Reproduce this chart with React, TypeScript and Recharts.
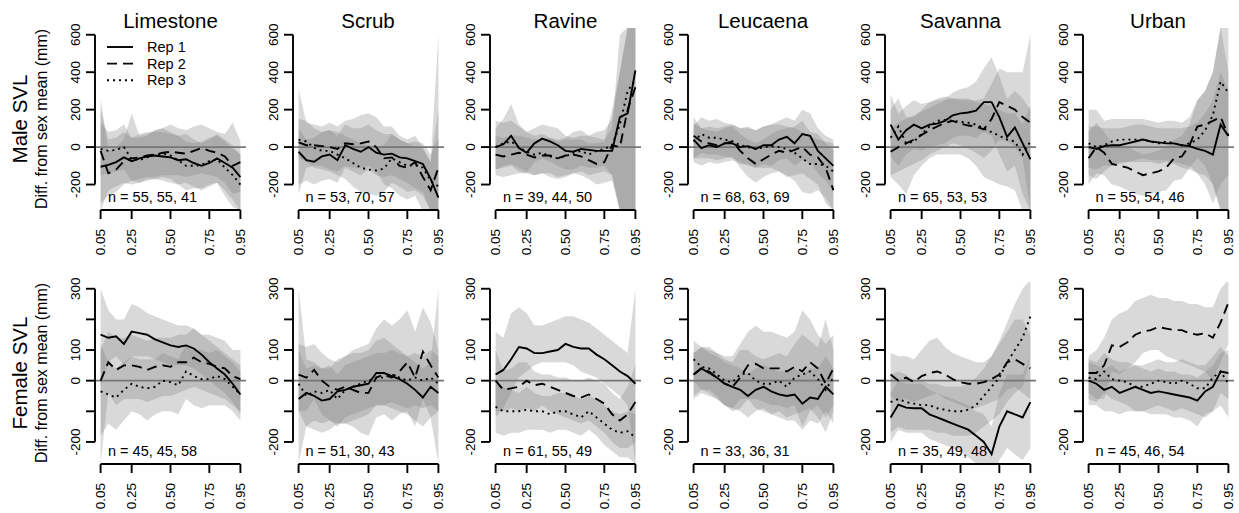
import React from 'react';
import { ComposedChart, Line, Area, XAxis, YAxis, ReferenceLine } from 'recharts';

// quantile positions along the x axis
const QUANTILES = [0.05, 0.1, 0.15, 0.2, 0.25, 0.3, 0.35, 0.4, 0.45, 0.5, 0.55, 0.6, 0.65, 0.7, 0.75, 0.8, 0.85, 0.9, 0.95];
const X_TICKS = [0.05, 0.25, 0.5, 0.75, 0.95];
const HABITATS = ['Limestone', 'Scrub', 'Ravine', 'Leucaena', 'Savanna', 'Urban'];
const REPS = ['Rep 1', 'Rep 2', 'Rep 3'];
const MALE_N = ['n = 55, 55, 41', 'n = 53, 70, 57', 'n = 39, 44, 50', 'n = 68, 63, 69', 'n = 65, 53, 53', 'n = 55, 54, 46'];
const FEMALE_N = ['n = 45, 45, 58', 'n = 51, 30, 43', 'n = 61, 55, 49', 'n = 33, 36, 31', 'n = 35, 49, 48', 'n = 45, 46, 54'];
const MALE_Y_TICKS = [-200, 0, 200, 400, 600];
const MALE_Y_LABELS = [-200, 0, 200, 400, 600];
const FEMALE_Y_TICKS = [-200, -100, 0, 100, 200, 300];
const FEMALE_Y_LABELS = [-200, 0, 100, 300];

// ---- male SVL ----
const mLim1 = [-105, -95, -80, -55, -75, -60, -50, -45, -50, -55, -70, -65, -85, -100, -85, -60, -85, -110, -160];
const mLim2 = [-20, -140, -120, -75, -60, -55, -45, -40, -30, -25, -30, -35, -20, -5, -20, -30, -50, -100, -80];
const mLim3 = [-10, -20, -15, 0, -65, -70, -55, -40, -35, -45, -70, -100, -100, -95, -75, -65, -110, -150, -200];
const mLim1lo = [-340, -230, -210, -190, -200, -190, -180, -170, -180, -190, -200, -190, -210, -230, -210, -190, -230, -280, -340];
const mLim1hi = [200, 40, 50, 80, 50, 70, 80, 80, 80, 70, 60, 70, 40, 20, 40, 70, 40, 10, -40];
const mLim2lo = [-300, -260, -240, -200, -180, -170, -160, -160, -150, -150, -150, -160, -150, -140, -150, -160, -190, -250, -240];
const mLim2hi = [260, -20, 0, 40, 180, 60, 70, 90, 100, 120, 100, 90, 110, 120, 100, 80, 70, 130, 30];
const mLim3lo = [-150, -140, -130, -120, -180, -190, -170, -170, -160, -170, -200, -230, -220, -220, -200, -190, -260, -320, -340];
const mLim3hi = [130, 80, 90, 120, 50, 50, 60, 90, 100, 80, 60, 30, 20, 30, 50, 60, 30, -10, -40];

const mScr1 = [-25, -70, -78, -50, -40, -70, 10, -10, -25, 0, -30, -40, -35, -55, -60, -75, -90, -170, -270];
const mScr2 = [25, 10, 10, 5, 0, -10, 20, 15, 20, 30, 0, -60, -55, -100, -110, -80, -160, -230, -110];
const mScr3 = [40, 30, -5, -20, -20, -40, -60, -85, -110, -120, -125, -115, -60, -80, -100, -95, -110, -180, -210];
const mScr1lo = [-200, -180, -200, -180, -170, -190, -110, -130, -150, -120, -150, -160, -150, -170, -190, -220, -240, -340, -340];
const mScr1hi = [100, 40, 50, 80, 90, 60, 120, 100, 100, 120, 90, 70, 70, 40, 20, 0, -10, -80, 600];
const mScr2lo = [-250, -110, -100, -100, -120, -130, -100, -110, -110, -100, -130, -200, -220, -260, -280, -260, -340, -340, -340];
const mScr2hi = [310, 130, 120, 110, 130, 110, 140, 150, 170, 180, 160, 110, 110, 60, 40, 60, 0, -80, 200];
const mScr3lo = [-60, -80, -110, -120, -130, -150, -170, -210, -240, -250, -260, -240, -190, -210, -240, -230, -260, -340, -340];
const mScr3hi = [150, 140, 100, 80, 90, 80, 60, 40, 20, 10, 0, 10, 70, 40, 20, 30, 20, -40, 50];

const mRav1 = [0, 15, 60, -5, -30, 20, 45, 30, 10, -20, -25, -10, -15, -20, -20, -20, 160, 180, 410];
const mRav2 = [-40, -50, -40, -30, -40, -55, -45, -45, -60, -45, -40, -50, -70, -90, -80, 10, 0, 200, 320];
const mRav3 = [0, 20, 30, 0, -25, -40, -30, -50, -60, -50, -30, -20, -40, -20, -10, 10, 120, 300, 360];
const mRav1lo = [-120, -110, -100, -130, -140, -80, -60, -80, -100, -120, -120, -100, -110, -110, -100, -150, -340, -340, -340];
const mRav1hi = [100, 150, 230, 120, 80, 100, 120, 110, 100, 60, 50, 60, 60, 50, 40, 100, 600, 640, 640];
const mRav2lo = [-150, -160, -150, -140, -140, -150, -140, -140, -160, -150, -140, -150, -170, -200, -190, -180, -340, -340, -340];
const mRav2hi = [60, 50, 60, 60, 50, 40, 40, 50, 30, 40, 40, 40, 20, 20, 30, 200, 400, 640, 640];
const mRav3lo = [-120, -100, -90, -110, -130, -150, -140, -160, -170, -160, -140, -130, -150, -140, -130, -150, -340, -340, -340];
const mRav3hi = [140, 130, 140, 110, 80, 60, 70, 50, 40, 50, 80, 90, 60, 80, 90, 150, 400, 640, 640];

const mLeu1 = [40, -5, 10, 0, 20, 20, 0, 5, -10, 10, 10, 40, 55, 20, 70, 60, -20, -60, -100];
const mLeu2 = [60, 30, 20, 10, 20, 30, -20, -60, -90, -65, -40, -20, -30, -15, 0, -40, -55, -110, -230];
const mLeu3 = [30, 70, 50, 50, 40, 30, 10, 0, -10, 0, 5, 0, -10, -30, -60, -90, -90, -100, -130];
const mLeu1lo = [-80, -100, -80, -90, -80, -70, -90, -90, -110, -90, -100, -70, -60, -100, -70, -80, -140, -180, -240];
const mLeu1hi = [160, 100, 110, 100, 110, 120, 100, 110, 90, 110, 120, 140, 160, 140, 200, 180, 100, 60, 40];
const mLeu2lo = [-60, -60, -60, -70, -60, -50, -110, -160, -190, -160, -140, -130, -160, -150, -140, -170, -200, -300, -340];
const mLeu2hi = [130, 100, 90, 80, 100, 110, 70, 40, 20, 40, 70, 90, 100, 110, 140, 80, 70, 20, -20];
const mLeu3lo = [-60, -30, -40, -40, -50, -60, -80, -100, -110, -110, -110, -130, -150, -180, -240, -250, -230, -270, -340];
const mLeu3hi = [110, 160, 140, 150, 130, 120, 100, 100, 90, 110, 120, 120, 110, 100, 80, 60, 40, 30, 20];

const mSav1 = [120, 40, 90, 120, 100, 120, 125, 140, 170, 180, 185, 195, 240, 240, 160, 55, 105, 20, -65];
const mSav2 = [-25, 0, 20, 40, 65, 90, 110, 130, 140, 125, 115, 110, 95, 150, 240, 220, 200, 160, 130];
const mSav3 = [50, 110, 20, 30, 70, 110, 140, 145, 140, 135, 130, 120, 100, 80, 60, 40, 30, -40, 30];
const mSav1lo = [-50, -100, -40, -10, -20, 0, 10, 20, 50, 60, 60, 50, 80, 60, -40, -130, -100, -250, -340];
const mSav1hi = [280, 180, 220, 250, 230, 240, 250, 260, 290, 310, 320, 350, 420, 480, 380, 260, 300, 260, 200];
const mSav2lo = [-150, -130, -110, -90, -70, -40, -20, 0, 20, 10, -10, -30, -60, -20, 40, 30, 0, -60, -340];
const mSav2hi = [100, 130, 150, 170, 190, 210, 230, 250, 260, 250, 250, 250, 260, 340, 420, 400, 400, 400, 600];
const mSav3lo = [-160, -200, -250, -150, -100, -60, -40, -40, -40, -40, -60, -100, -160, -180, -200, -210, -230, -340, -340];
const mSav3hi = [200, 260, 160, 160, 200, 240, 260, 270, 260, 260, 260, 240, 230, 220, 200, 180, 180, 120, 220];

const mUrb1 = [0, -10, 5, 10, 10, 20, 30, 40, 30, 25, 20, 20, 10, 5, -10, -20, -40, 120, 60];
const mUrb2 = [-60, 0, -30, -90, -100, -110, -130, -150, -140, -130, -110, -60, -50, 10, 110, 120, 140, 160, 60];
const mUrb3 = [20, 0, 10, 30, 40, 40, 40, 40, 30, 20, 30, 20, 10, 20, 40, 90, 170, 350, 290];
const mUrb1lo = [-110, -120, -100, -100, -90, -80, -70, -60, -70, -70, -70, -80, -90, -100, -140, -200, -300, -200, -150];
const mUrb1hi = [110, 110, 100, 100, 100, 110, 120, 120, 110, 100, 100, 100, 100, 110, 130, 180, 250, 400, 300];
const mUrb2lo = [-200, -140, -150, -200, -210, -230, -250, -260, -250, -240, -230, -180, -170, -110, -60, -100, -200, -340, -340];
const mUrb2hi = [80, 130, 80, 20, 10, 0, -20, -40, -30, -20, 0, 40, 60, 120, 250, 300, 400, 640, 400];
const mUrb3lo = [-150, -170, -130, -100, -80, -80, -80, -80, -80, -90, -80, -90, -110, -120, -140, -150, -200, -340, -340];
const mUrb3hi = [200, 200, 140, 150, 150, 150, 150, 150, 140, 130, 140, 140, 130, 160, 250, 300, 400, 640, 640];

// ---- female SVL ----
const fLim1 = [150, 140, 145, 120, 160, 155, 150, 135, 125, 115, 110, 115, 105, 85, 60, 40, 20, -10, -45];
const fLim2 = [0, 60, 35, 50, 50, 45, 35, 45, 50, 45, 60, 60, 75, 60, 55, 45, 40, 15, 5];
const fLim3 = [-35, -45, -55, -30, -10, -20, -25, -20, 0, -5, -15, 30, 15, 5, 5, 15, 5, -20, -45];
const fLim1lo = [-20, 60, 80, 50, 80, 80, 80, 70, 60, 50, 50, 50, 40, 20, 0, -20, -40, -70, -110];
const fLim1hi = [300, 230, 200, 200, 250, 240, 220, 210, 200, 190, 180, 180, 170, 150, 130, 110, 90, 70, 50];
const fLim2lo = [-270, -40, -80, -60, -60, -60, -70, -60, -50, -50, -40, -30, -20, -30, -40, -50, -60, -80, -100];
const fLim2hi = [100, 160, 140, 140, 150, 140, 130, 140, 140, 140, 150, 150, 170, 150, 150, 140, 130, 100, 100];
const fLim3lo = [-180, -140, -160, -130, -100, -110, -130, -110, -100, -100, -110, -60, -80, -90, -80, -80, -80, -100, -130];
const fLim3hi = [120, 60, 40, 60, 80, 70, 70, 70, 90, 80, 70, 120, 100, 100, 90, 100, 80, 60, 30];

const fScr1 = [-60, -40, -50, -65, -60, -35, -30, -20, -15, -10, 25, 25, 15, 5, -10, -30, -55, -20, -40];
const fScr2 = [20, 10, 35, 0, -20, -30, -20, -30, -40, -40, 10, 20, 10, 30, 60, 10, 95, 50, 10];
const fScr3 = [-10, -50, -35, -40, -30, -60, -30, -20, -10, 0, 10, 10, 20, 10, 0, 10, 0, 10, -10];
const fScr1lo = [-270, -150, -160, -170, -160, -140, -140, -130, -120, -110, -80, -80, -90, -100, -110, -130, -150, -120, -270];
const fScr1hi = [300, 70, 60, 40, 40, 70, 80, 90, 90, 100, 130, 140, 120, 100, 80, 60, 40, 60, 300];
const fScr2lo = [-100, -100, -60, -110, -130, -140, -140, -150, -170, -180, -120, -110, -130, -110, -100, -150, -60, -120, -100];
const fScr2hi = [120, 110, 120, 90, 70, 60, 80, 100, 110, 120, 170, 200, 180, 200, 230, 160, 240, 190, 100];
const fScr3lo = [-100, -150, -130, -140, -130, -150, -120, -110, -100, -90, -80, -80, -70, -80, -90, -80, -90, -80, -100];
const fScr3hi = [100, 40, 50, 40, 50, 20, 50, 60, 70, 80, 90, 90, 100, 90, 80, 90, 80, 100, 80];

const fRav1 = [20, 35, 70, 110, 105, 90, 90, 95, 100, 120, 110, 105, 105, 85, 70, 50, 30, 15, -10];
const fRav2 = [0, -30, -25, -20, 0, -15, -10, -20, -30, -40, -50, -55, -45, -60, -75, -110, -130, -110, -70];
const fRav3 = [-85, -100, -100, -100, -95, -100, -100, -110, -100, -100, -110, -120, -100, -120, -140, -160, -170, -165, -185];
const fRav1lo = [-120, -90, -40, 10, 30, 50, 60, 60, 60, 60, 50, 30, 20, 10, -10, -30, -50, -80, -270];
const fRav1hi = [160, 140, 220, 240, 220, 180, 180, 190, 200, 210, 210, 200, 190, 170, 150, 130, 110, 90, 300];
const fRav2lo = [-100, -100, -90, -100, -90, -100, -80, -100, -110, -120, -130, -140, -130, -150, -170, -200, -220, -220, -200];
const fRav2hi = [100, 30, 40, 60, 60, 30, 20, 20, 10, 10, 0, 0, 10, 0, -10, -40, -60, -20, 50];
const fRav3lo = [-170, -180, -170, -170, -160, -160, -160, -170, -160, -160, -170, -180, -160, -180, -210, -230, -250, -250, -270];
const fRav3hi = [0, -20, -30, -40, -20, -40, -50, -50, -40, -40, -50, -60, -50, -60, -80, -100, -110, -100, -110];

const fLeu1 = [20, 40, 25, 10, -10, -20, -30, -50, -30, -20, -35, -45, -50, -45, -75, -55, -60, -20, -45];
const fLeu2 = [20, 40, 30, 10, -10, -20, 10, 50, 55, 40, 40, 40, 30, 45, 30, 60, 40, -10, 40];
const fLeu3 = [70, 45, 40, 20, 0, -5, 20, 25, 0, -10, -10, 0, -20, 10, 20, 30, 5, -30, 10];
const fLeu1lo = [-60, -40, -50, -60, -80, -90, -100, -120, -100, -90, -110, -120, -130, -130, -160, -130, -140, -100, -140];
const fLeu1hi = [90, 110, 90, 80, 60, 50, 40, 20, 40, 50, 40, 30, 30, 40, 20, 40, 40, 80, 40];
const fLeu2lo = [-50, -30, -40, -60, -80, -100, -90, -60, -60, -70, -80, -80, -90, -80, -150, -100, -80, -120, -80];
const fLeu2hi = [90, 110, 100, 90, 80, 80, 120, 160, 180, 160, 160, 150, 140, 160, 230, 200, 150, 120, 150];
const fLeu3lo = [0, -30, -30, -50, -80, -90, -60, -60, -90, -100, -110, -100, -120, -110, -100, -90, -120, -170, -100];
const fLeu3hi = [130, 110, 110, 90, 70, 60, 100, 100, 80, 70, 80, 90, 80, 120, 150, 130, 110, 200, 100];

const fSav1 = [-120, -78, -88, -90, -90, -110, -120, -130, -140, -150, -160, -180, -200, -240, -150, -100, -110, -120, -70];
const fSav2 = [20, 0, 10, -5, 15, 25, 30, 20, 5, -5, -10, -10, -5, 5, 20, 60, 70, 55, 40];
const fSav3 = [-70, -60, -70, -75, -80, -80, -90, -95, -100, -100, -95, -80, -50, -20, 10, 60, 100, 140, 210];
const fSav1lo = [-200, -160, -170, -170, -170, -190, -200, -210, -220, -230, -250, -270, -280, -330, -260, -220, -240, -260, -220];
const fSav1hi = [-40, 0, -10, -10, -10, -30, -40, -50, -60, -70, -80, -100, -110, -150, -40, 20, 20, 20, 80];
const fSav2lo = [-50, -70, -60, -70, -60, -50, -40, -60, -70, -80, -90, -90, -80, -70, -60, -30, -20, -40, -60];
const fSav2hi = [90, 80, 80, 70, 100, 130, 140, 110, 90, 80, 70, 60, 60, 80, 120, 160, 200, 200, 150];
const fSav3lo = [-170, -150, -160, -160, -160, -160, -170, -170, -180, -180, -180, -170, -150, -130, -110, -70, -40, -20, 80];
const fSav3hi = [20, 30, 20, 0, 0, -10, -10, -20, -20, -20, -10, 10, 40, 80, 130, 190, 250, 300, 330];

const fUrb1 = [0, -10, -30, -20, -40, -30, -20, -30, -40, -35, -40, -45, -50, -55, -65, -35, -20, 30, 25];
const fUrb2 = [25, 25, 50, 115, 110, 125, 150, 160, 165, 175, 170, 165, 165, 155, 150, 155, 140, 190, 255];
const fUrb3 = [10, 5, 30, 5, 0, -5, -20, -20, -10, 0, -5, -10, 0, -10, -25, -25, 10, 30, -10];
const fUrb1lo = [-80, -80, -100, -100, -110, -100, -100, -100, -110, -110, -110, -120, -120, -130, -150, -110, -100, -40, -60];
const fUrb1hi = [60, 50, 40, 50, 30, 40, 50, 40, 30, 40, 30, 30, 20, 20, 10, 30, 50, 90, 100];
const fUrb2lo = [-40, -60, -60, 30, 20, 40, 60, 90, 100, 100, 80, 70, 60, 50, 40, 30, 0, 60, 120];
const fUrb2hi = [80, 100, 140, 200, 220, 230, 260, 270, 280, 270, 270, 260, 260, 250, 250, 240, 240, 300, 330];
const fUrb3lo = [-60, -70, -40, -60, -70, -80, -100, -100, -90, -80, -90, -100, -90, -100, -110, -120, -100, -80, -120];
const fUrb3hi = [70, 60, 90, 70, 60, 60, 50, 50, 60, 70, 60, 60, 70, 60, 50, 50, 80, 110, 80];

const MALE_SETS = [
  { r: [mLim1, mLim2, mLim3], lo: [mLim1lo, mLim2lo, mLim3lo], hi: [mLim1hi, mLim2hi, mLim3hi] },
  { r: [mScr1, mScr2, mScr3], lo: [mScr1lo, mScr2lo, mScr3lo], hi: [mScr1hi, mScr2hi, mScr3hi] },
  { r: [mRav1, mRav2, mRav3], lo: [mRav1lo, mRav2lo, mRav3lo], hi: [mRav1hi, mRav2hi, mRav3hi] },
  { r: [mLeu1, mLeu2, mLeu3], lo: [mLeu1lo, mLeu2lo, mLeu3lo], hi: [mLeu1hi, mLeu2hi, mLeu3hi] },
  { r: [mSav1, mSav2, mSav3], lo: [mSav1lo, mSav2lo, mSav3lo], hi: [mSav1hi, mSav2hi, mSav3hi] },
  { r: [mUrb1, mUrb2, mUrb3], lo: [mUrb1lo, mUrb2lo, mUrb3lo], hi: [mUrb1hi, mUrb2hi, mUrb3hi] },
];
const FEMALE_SETS = [
  { r: [fLim1, fLim2, fLim3], lo: [fLim1lo, fLim2lo, fLim3lo], hi: [fLim1hi, fLim2hi, fLim3hi] },
  { r: [fScr1, fScr2, fScr3], lo: [fScr1lo, fScr2lo, fScr3lo], hi: [fScr1hi, fScr2hi, fScr3hi] },
  { r: [fRav1, fRav2, fRav3], lo: [fRav1lo, fRav2lo, fRav3lo], hi: [fRav1hi, fRav2hi, fRav3hi] },
  { r: [fLeu1, fLeu2, fLeu3], lo: [fLeu1lo, fLeu2lo, fLeu3lo], hi: [fLeu1hi, fLeu2hi, fLeu3hi] },
  { r: [fSav1, fSav2, fSav3], lo: [fSav1lo, fSav2lo, fSav3lo], hi: [fSav1hi, fSav2hi, fSav3hi] },
  { r: [fUrb1, fUrb2, fUrb3], lo: [fUrb1lo, fUrb2lo, fUrb3lo], hi: [fUrb1hi, fUrb2hi, fUrb3hi] },
];

// layout (R-style panels)
const FONT = '"Liberation Sans", Arial, Helvetica, sans-serif';
const X_DOMAIN: [number, number] = [0.014, 0.986];
const MALE_DOMAIN: [number, number] = [-336, 636];
const FEMALE_DOMAIN: [number, number] = [-272, 322];
const PLOT_W = 151;
const PLOT_H = 182;
const PAD_L = 40;
const PAD_T = 10;
const PAD_R = 10;
const PAD_B = 50;
const COL_X = [95, 292.5, 490, 687.5, 885, 1082.5];
const ROW_TOP = [28, 282];
const DASHES = [undefined, '10 6', '2 4'];
const LINE_W = 1.9;
const TICK_FONT = 13.5;

type PanelProps = {
  left: number;
  top: number;
  set: { r: number[][]; lo: number[][]; hi: number[][] };
  yDomain: [number, number];
  yTicks: number[];
  yLabels: number[];
};

const Panel: React.FC<PanelProps> = ({ left, top, set, yDomain, yTicks, yLabels }) => {
  const data = QUANTILES.map((q, i) => ({
    q,
    r1: set.r[0][i],
    r2: set.r[1][i],
    r3: set.r[2][i],
    b1: [set.lo[0][i], set.hi[0][i]],
    b2: [set.lo[1][i], set.hi[1][i]],
    b3: [set.lo[2][i], set.hi[2][i]],
  }));
  const bottom = PAD_T + PLOT_H;

  const xTick = (props: any) => {
    const { x, payload } = props;
    const ty = bottom + 19;
    return (
      <text x={x} y={ty} transform={`rotate(-90 ${x} ${ty})`} textAnchor="end" dy="0.35em"
        fontSize={TICK_FONT} fontFamily={FONT} fill="#000">
        {payload.value.toFixed(2)}
      </text>
    );
  };
  const yTick = (props: any) => {
    const { y, payload } = props;
    if (!yLabels.includes(payload.value)) return <g />;
    const tx = PAD_L - 20;
    return (
      <text x={tx} y={y} transform={`rotate(-90 ${tx} ${y})`} textAnchor="middle" dy="0.35em"
        fontSize={TICK_FONT} fontFamily={FONT} fill="#000">
        {payload.value}
      </text>
    );
  };

  return (
    <div style={{ position: 'absolute', left: left - PAD_L, top: top - PAD_T }}>
      <ComposedChart width={PAD_L + PLOT_W + PAD_R} height={PAD_T + PLOT_H + PAD_B} data={data}
        margin={{ top: PAD_T, right: PAD_R, bottom: 0, left: 0 }}>
        <XAxis dataKey="q" type="number" domain={X_DOMAIN} ticks={X_TICKS} allowDataOverflow interval={0}
          height={PAD_B} axisLine={false} tickSize={9} tickLine={{ stroke: '#000', strokeWidth: LINE_W }} tick={xTick} />
        <YAxis type="number" domain={yDomain} ticks={yTicks} allowDataOverflow interval={0}
          width={PAD_L} axisLine={false} tickSize={9} tickLine={{ stroke: '#000', strokeWidth: LINE_W }} tick={yTick} />
        {['b1', 'b2', 'b3'].map((k) => (
          <Area key={k} type="linear" dataKey={k} stroke="none" fill="#808080" fillOpacity={0.3}
            isAnimationActive={false} activeDot={false} />
        ))}
        <ReferenceLine y={0} stroke="#777" strokeWidth={LINE_W} />
        {['r1', 'r2', 'r3'].map((k, i) => (
          <Line key={k} type="linear" dataKey={k} stroke="#000" strokeWidth={LINE_W}
            strokeDasharray={DASHES[i]} dot={false} activeDot={false} isAnimationActive={false} />
        ))}
        <ReferenceLine segment={[{ x: X_TICKS[0], y: yDomain[0] }, { x: X_TICKS[X_TICKS.length - 1], y: yDomain[0] }]}
          stroke="#000" strokeWidth={LINE_W} ifOverflow="visible" />
        <ReferenceLine segment={[{ x: X_DOMAIN[0], y: yTicks[0] }, { x: X_DOMAIN[0], y: yTicks[yTicks.length - 1] }]}
          stroke="#000" strokeWidth={LINE_W} ifOverflow="visible" />
      </ComposedChart>
    </div>
  );
};

const App: React.FC = () => {
  const rowMid = ROW_TOP.map((t) => t + PLOT_H / 2);
  return (
    <div style={{ position: 'absolute', left: 0, top: 0, width: 1239, height: 513, background: '#fff', overflow: 'hidden' }}>
      {MALE_SETS.map((set, i) => (
        <Panel key={`m${i}`} left={COL_X[i]} top={ROW_TOP[0]} set={set} yDomain={MALE_DOMAIN}
          yTicks={MALE_Y_TICKS} yLabels={MALE_Y_LABELS} />
      ))}
      {FEMALE_SETS.map((set, i) => (
        <Panel key={`f${i}`} left={COL_X[i]} top={ROW_TOP[1]} set={set} yDomain={FEMALE_DOMAIN}
          yTicks={FEMALE_Y_TICKS} yLabels={FEMALE_Y_LABELS} />
      ))}
      <svg width={1239} height={513} style={{ position: 'absolute', left: 0, top: 0, pointerEvents: 'none' }}
        fontFamily={FONT}>
        {HABITATS.map((h, i) => (
          <text key={h} x={COL_X[i] + PLOT_W / 2} y={28} textAnchor="middle" fontSize={20.5}>{h}</text>
        ))}
        {MALE_N.map((n, i) => (
          <text key={`mn${i}`} x={COL_X[i] + 13} y={ROW_TOP[0] + 173.5} fontSize={14.5}>{n}</text>
        ))}
        {FEMALE_N.map((n, i) => (
          <text key={`fn${i}`} x={COL_X[i] + 13} y={ROW_TOP[1] + 173.5} fontSize={14.5}>{n}</text>
        ))}
        {['Male SVL', 'Female SVL'].map((t, i) => (
          <g key={t}>
            <text x={27} y={rowMid[i]} transform={`rotate(-90 27 ${rowMid[i]})`} textAnchor="middle" fontSize={20.5}>{t}</text>
            <text x={47} y={rowMid[i]} transform={`rotate(-90 47 ${rowMid[i]})`} textAnchor="middle" fontSize={16}>
              Diff. from sex mean (mm)
            </text>
          </g>
        ))}
        {REPS.map((r, i) => (
          <g key={r}>
            <line x1={107} x2={133} y1={47 + i * 16.6} y2={47 + i * 16.6} stroke="#000" strokeWidth={LINE_W}
              strokeDasharray={DASHES[i]} />
            <text x={147} y={47 + i * 16.6} dy="0.35em" fontSize={14.5}>{r}</text>
          </g>
        ))}
      </svg>
    </div>
  );
};

export default App;
